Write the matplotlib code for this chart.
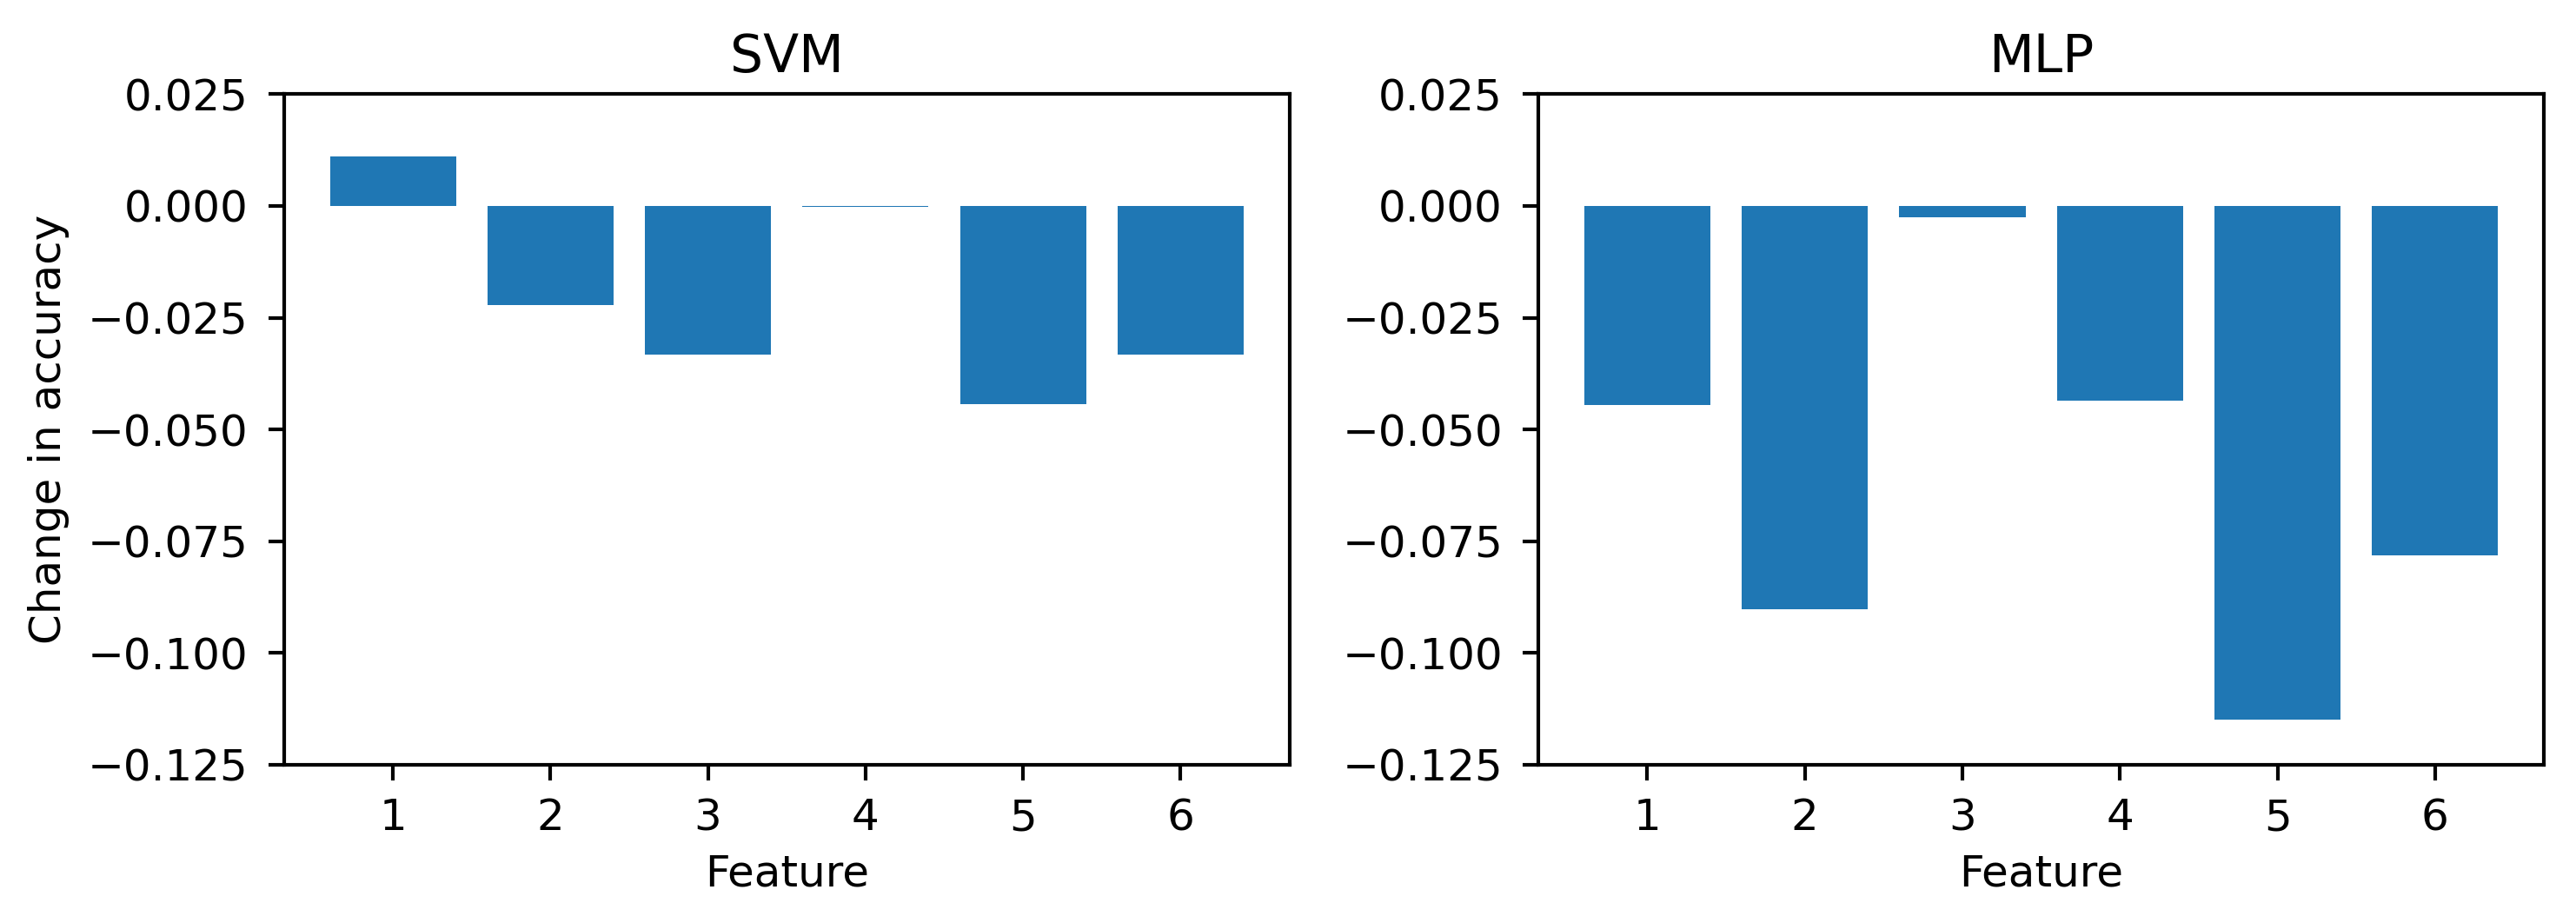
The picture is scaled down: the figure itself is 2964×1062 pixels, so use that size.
import matplotlib
matplotlib.use("Agg")
import matplotlib.pyplot as plt

features = [1, 2, 3, 4, 5, 6]
svm_change = [0.0111, -0.0222, -0.0333, -0.0002, -0.0444, -0.0333]
mlp_change = [-0.0445, -0.0903, -0.0025, -0.0435, -0.1148, -0.0781]
titles = ["SVM", "MLP"]
yticks = [-0.125, -0.100, -0.075, -0.050, -0.025, 0.000, 0.025]

plt.rcParams["font.size"] = 12
plt.rcParams["axes.linewidth"] = 1.0
plt.rcParams["xtick.major.width"] = 1.0
plt.rcParams["ytick.major.width"] = 1.0
plt.rcParams["xtick.major.size"] = 4.4
plt.rcParams["ytick.major.size"] = 4.4
plt.rcParams["ytick.major.pad"] = 5.5
plt.rcParams["xtick.major.pad"] = 4.5

fig, axes = plt.subplots(1, 2, figsize=(9.88, 3.54), dpi=300)
for ax, vals, title in zip(axes, [svm_change, mlp_change], titles):
    ax.bar(features, vals, color="#1f77b4")
    ax.set_ylim(-0.125, 0.025)
    ax.set_yticks(yticks)
    ax.set_yticklabels([("%.3f" % v).replace("-", "\u2212") for v in yticks])
    ax.set_xticks(features)
    ax.set_title(title)
    ax.set_xlabel("Feature")
axes[0].set_ylabel("Change in accuracy", labelpad=5)

plt.subplots_adjust(left=0.1103, right=0.9875, top=0.898, bottom=0.1714, wspace=0.248)
plt.savefig("out.png", dpi=300)
